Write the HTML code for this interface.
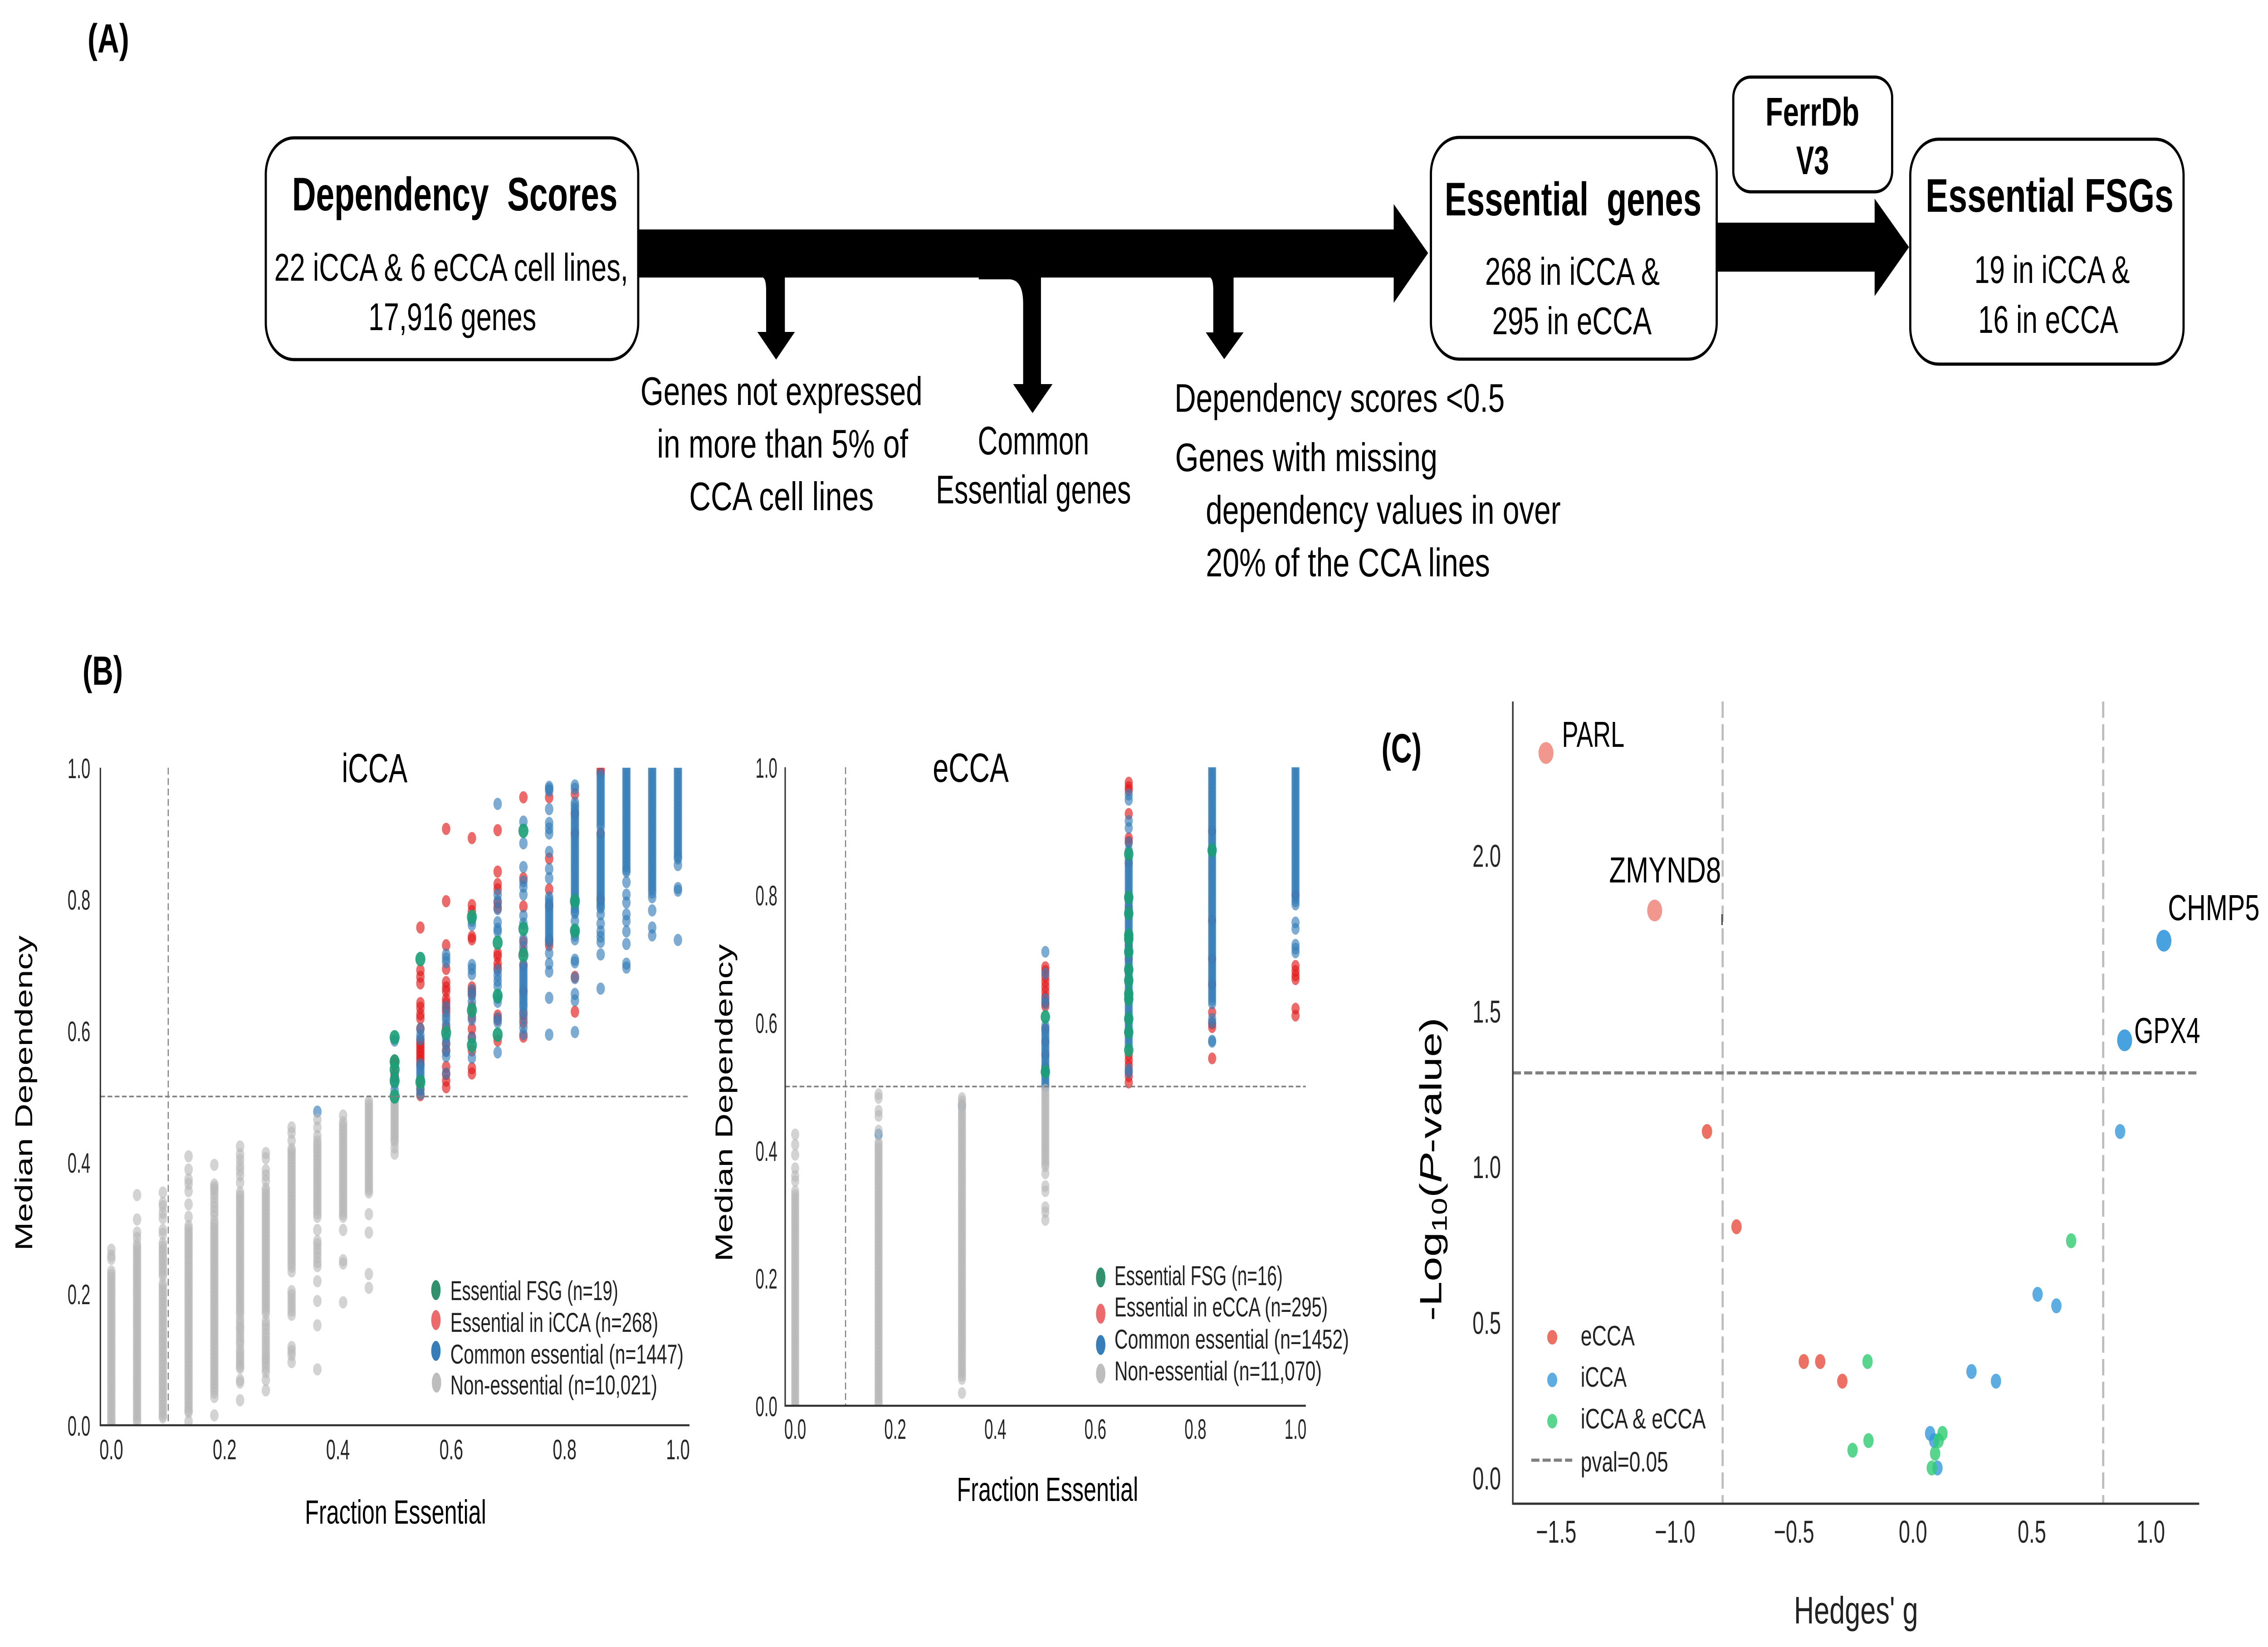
<!DOCTYPE html>
<html lang="en">
<head>
<meta charset="utf-8">
<title>Essential ferroptosis genes in CCA</title>
<style>
html,body{margin:0;padding:0;background:#fff;width:100%;height:100%;overflow:hidden;}
svg{display:block;overflow:hidden;width:100vw;height:100vh;font-family:"Liberation Sans",sans-serif;}
</style>
</head>
<body>
<svg id="figure" xmlns="http://www.w3.org/2000/svg" viewBox="0 0 7253 3632" preserveAspectRatio="none">
<defs>
<clipPath id="clipI"><rect x="0" y="1693" width="2300" height="1450"/></clipPath>
<clipPath id="clipE"><rect x="2400" y="1692" width="1900" height="1408"/></clipPath>
</defs>
<rect x="0" y="0" width="7253" height="3632" fill="#fff"/>

<!-- PANEL A -->
<g>
<text x="280" y="116" font-size="90" font-weight="bold" textLength="133" lengthAdjust="spacingAndGlyphs">(A)</text>
<path d="M2030 506H4457V450L4567 558L4457 668V612H2030Z" fill="#000"/>
<path d="M2440 610H2510V732H2542L2482 793L2422 732H2450V640Q2450 616 2440 612Z" fill="#000"/>
<path d="M3130 610H3329V847H3366L3302 911L3240 847H3272V670Q3272 618 3230 616H3130Z" fill="#000"/>
<path d="M3870 610H3945V733H3977L3915 792L3856 733H3880V640Q3880 616 3870 612Z" fill="#000"/>
<path d="M5480 491H5995V438L6105 545L5995 653V599H5480Z" fill="#000"/>

<rect x="850" y="304" width="1191" height="489" rx="90" ry="80" fill="#fff" stroke="#000" stroke-width="7"/>
<text x="934" y="464" font-size="104" font-weight="bold" textLength="1041" lengthAdjust="spacingAndGlyphs" xml:space="preserve">Dependency  Scores</text>
<text x="877" y="619" font-size="85" textLength="1132" lengthAdjust="spacingAndGlyphs">22 iCCA &amp; 6 eCCA cell lines,</text>
<text x="1178" y="728" font-size="85" textLength="537" lengthAdjust="spacingAndGlyphs">17,916 genes</text>

<rect x="4576" y="303" width="914" height="489" rx="90" ry="80" fill="#fff" stroke="#000" stroke-width="7"/>
<text x="4620" y="475" font-size="104" font-weight="bold" textLength="821" lengthAdjust="spacingAndGlyphs" xml:space="preserve">Essential  genes</text>
<text x="4749" y="628" font-size="85" textLength="559" lengthAdjust="spacingAndGlyphs">268 in iCCA &amp;</text>
<text x="4772" y="737" font-size="85" textLength="510" lengthAdjust="spacingAndGlyphs">295 in eCCA</text>

<rect x="5543" y="170" width="508" height="253" rx="55" ry="45" fill="#fff" stroke="#000" stroke-width="7"/>
<text x="5646" y="277" font-size="88" font-weight="bold" textLength="300" lengthAdjust="spacingAndGlyphs">FerrDb</text>
<text x="5744" y="384" font-size="88" font-weight="bold" textLength="105" lengthAdjust="spacingAndGlyphs">V3</text>

<rect x="6109" y="307" width="874" height="496" rx="90" ry="80" fill="#fff" stroke="#000" stroke-width="7"/>
<text x="6158" y="467" font-size="104" font-weight="bold" textLength="793" lengthAdjust="spacingAndGlyphs">Essential FSGs</text>
<text x="6314" y="624" font-size="85" textLength="497" lengthAdjust="spacingAndGlyphs">19 in iCCA &amp;</text>
<text x="6326" y="734" font-size="85" textLength="448" lengthAdjust="spacingAndGlyphs">16 in eCCA</text>

<text x="2048" y="893" font-size="88" textLength="902" lengthAdjust="spacingAndGlyphs">Genes not expressed</text>
<text x="2101" y="1009" font-size="88" textLength="803" lengthAdjust="spacingAndGlyphs">in more than 5% of</text>
<text x="2204" y="1125" font-size="88" textLength="590" lengthAdjust="spacingAndGlyphs">CCA cell lines</text>
<text x="3127" y="1002" font-size="88" textLength="356" lengthAdjust="spacingAndGlyphs">Common</text>
<text x="2993" y="1110" font-size="88" textLength="624" lengthAdjust="spacingAndGlyphs">Essential genes</text>
<text x="3756" y="908" font-size="88" textLength="1056" lengthAdjust="spacingAndGlyphs">Dependency scores &lt;0.5</text>
<text x="3758" y="1039" font-size="88" textLength="839" lengthAdjust="spacingAndGlyphs">Genes with missing</text>
<text x="3856" y="1155" font-size="88" textLength="1135" lengthAdjust="spacingAndGlyphs">dependency values in over</text>
<text x="3856" y="1271" font-size="88" textLength="909" lengthAdjust="spacingAndGlyphs">20% of the CCA lines</text>
</g>

<!-- PANEL B iCCA -->
<text x="264" y="1510" font-size="90" font-weight="bold" textLength="129" lengthAdjust="spacingAndGlyphs">(B)</text>
<g id="icca-chart">
<g id="icca-dots" clip-path="url(#clipI)"></g>
<line x1="538" y1="1693" x2="538" y2="3143" stroke="#7f7f7f" stroke-width="3.5" stroke-dasharray="15 8"/>
<line x1="321" y1="2418" x2="2205" y2="2418" stroke="#7f7f7f" stroke-width="3.5" stroke-dasharray="15 8"/>
<line x1="321" y1="1693" x2="321" y2="3145" stroke="#333" stroke-width="4.5"/>
<line x1="319" y1="3143" x2="2205" y2="3143" stroke="#333" stroke-width="4.5"/>
<g id="icca-ticks" fill="#262626" font-size="62"></g>
<text x="1093" y="1725" font-size="90" textLength="210" lengthAdjust="spacingAndGlyphs">iCCA</text>
<text x="975" y="3360" font-size="74" textLength="580" lengthAdjust="spacingAndGlyphs">Fraction Essential</text>
<text transform="translate(103 2758) rotate(-90)" font-size="78" textLength="695" lengthAdjust="spacingAndGlyphs">Median Dependency</text>
<g font-size="60" fill="#222">
<ellipse cx="1394" cy="2845" rx="15" ry="22" fill="#31916f"/>
<ellipse cx="1394" cy="2911" rx="15" ry="22" fill="#ec6a6c"/>
<ellipse cx="1394" cy="2979" rx="15" ry="22" fill="#377eb8"/>
<ellipse cx="1396" cy="3049" rx="15" ry="22" fill="#bdbdbd"/>
<text x="1440" y="2867" textLength="537" lengthAdjust="spacingAndGlyphs">Essential FSG (n=19)</text>
<text x="1440" y="2937" textLength="665" lengthAdjust="spacingAndGlyphs">Essential in iCCA (n=268)</text>
<text x="1440" y="3007" textLength="746" lengthAdjust="spacingAndGlyphs">Common essential (n=1447)</text>
<text x="1440" y="3075" textLength="662" lengthAdjust="spacingAndGlyphs">Non-essential (n=10,021)</text>
</g>
</g>

<!-- PANEL B eCCA -->
<g id="ecca-chart">
<g id="ecca-dots" clip-path="url(#clipE)"></g>
<line x1="2704" y1="1692" x2="2704" y2="3100" stroke="#7f7f7f" stroke-width="3.5" stroke-dasharray="15 8"/>
<line x1="2511" y1="2396" x2="4176" y2="2396" stroke="#7f7f7f" stroke-width="3.5" stroke-dasharray="15 8"/>
<line x1="2511" y1="1692" x2="2511" y2="3102" stroke="#333" stroke-width="4.5"/>
<line x1="2509" y1="3100" x2="4176" y2="3100" stroke="#333" stroke-width="4.5"/>
<g id="ecca-ticks" fill="#262626" font-size="62"></g>
<text x="2983" y="1724" font-size="90" textLength="243" lengthAdjust="spacingAndGlyphs">eCCA</text>
<text x="3060" y="3310" font-size="74" textLength="580" lengthAdjust="spacingAndGlyphs">Fraction Essential</text>
<text transform="translate(2342 2782) rotate(-90)" font-size="78" textLength="700" lengthAdjust="spacingAndGlyphs">Median Dependency</text>
<g font-size="60" fill="#222">
<ellipse cx="3520" cy="2817" rx="15" ry="22" fill="#31916f"/>
<ellipse cx="3520" cy="2897" rx="15" ry="22" fill="#ec6a6c"/>
<ellipse cx="3520" cy="2966" rx="15" ry="22" fill="#377eb8"/>
<ellipse cx="3520" cy="3029" rx="15" ry="22" fill="#bdbdbd"/>
<text x="3564" y="2834" textLength="538" lengthAdjust="spacingAndGlyphs">Essential FSG (n=16)</text>
<text x="3564" y="2903" textLength="682" lengthAdjust="spacingAndGlyphs">Essential in eCCA (n=295)</text>
<text x="3564" y="2974" textLength="750" lengthAdjust="spacingAndGlyphs">Common essential (n=1452)</text>
<text x="3564" y="3044" textLength="663" lengthAdjust="spacingAndGlyphs">Non-essential (n=11,070)</text>
</g>
</g>

<!-- PANEL C -->
<text x="4418" y="1681" font-size="90" font-weight="bold" textLength="128" lengthAdjust="spacingAndGlyphs">(C)</text>
<g id="volcano-chart">
<line x1="5509" y1="1547" x2="5509" y2="3316" stroke="#bdbdbd" stroke-width="7" stroke-dasharray="36 14"/>
<line x1="6726" y1="1547" x2="6726" y2="3316" stroke="#bdbdbd" stroke-width="7" stroke-dasharray="36 14"/>
<line x1="4838" y1="2366" x2="7033" y2="2366" stroke="#808080" stroke-width="7" stroke-dasharray="26 10"/>
<line x1="4838" y1="1547" x2="4838" y2="3318" stroke="#333" stroke-width="5"/>
<line x1="4836" y1="3316" x2="7033" y2="3316" stroke="#333" stroke-width="5"/>
<line x1="5507" y1="2016" x2="5507" y2="2040" stroke="#333" stroke-width="4"/>
<g id="volcano-dots"></g>
<g id="volcano-ticks" fill="#262626" font-size="70"></g>
<text x="4995" y="1647" font-size="80" textLength="200" lengthAdjust="spacingAndGlyphs">PARL</text>
<text x="5146" y="1946" font-size="80" textLength="358" lengthAdjust="spacingAndGlyphs">ZMYND8</text>
<text x="6933" y="2029" font-size="80" textLength="293" lengthAdjust="spacingAndGlyphs">CHMP5</text>
<text x="6825" y="2300" font-size="80" textLength="211" lengthAdjust="spacingAndGlyphs">GPX4</text>
<text x="5737" y="3580" font-size="84" textLength="397" lengthAdjust="spacingAndGlyphs" fill="#222">Hedges' g</text>
<text transform="translate(4609 2913) rotate(-90)" font-size="98">-Log<tspan font-size="68" dy="18">10</tspan><tspan dy="-18">(</tspan><tspan font-style="italic">P</tspan>-value)</text>
<g font-size="62" fill="#222">
<circle cx="4964" cy="2949" r="16" fill="#e74c3c" fill-opacity="0.8"/>
<circle cx="4964" cy="3043" r="16" fill="#3498db" fill-opacity="0.8"/>
<circle cx="4964" cy="3134" r="16" fill="#2ecc71" fill-opacity="0.8"/>
<line x1="4897" y1="3220" x2="5028" y2="3220" stroke="#808080" stroke-width="7" stroke-dasharray="26 10"/>
<text x="5055" y="2967" textLength="173" lengthAdjust="spacingAndGlyphs">eCCA</text>
<text x="5055" y="3058" textLength="147" lengthAdjust="spacingAndGlyphs">iCCA</text>
<text x="5055" y="3150" textLength="400" lengthAdjust="spacingAndGlyphs">iCCA &amp; eCCA</text>
<text x="5055" y="3245" textLength="280" lengthAdjust="spacingAndGlyphs">pval=0.05</text>
</g>
</g>
</svg>

<script>
const fractionTickValues = [0, 0.2, 0.4, 0.6, 0.8, 1];
const fractionTickLabels = ["0.0", "0.2", "0.4", "0.6", "0.8", "1.0"];

/* iCCA: one list per fraction-essential column, column index / 22 */
const iccaColumnCount = 22;
const iccaNonEssential = [
[.267,.258,.253,.234,.229,.224,.219,.214,.209,.204,.199,.194,.189,.184,.179,.174,.169,.164,.159,.154,.149,.144,.139,.134,.129,.124,.119,.114,.109,.104,.099,.094,.089,.084,.079,.074,.069,.064,.059,.054,.049,.044,.039,.034,.029,.024,.019,.014,.009,.004,0],
[.35,.313,.293,.285,.275,.27,.265,.26,.255,.25,.245,.24,.235,.23,.225,.22,.215,.21,.205,.2,.195,.19,.185,.18,.175,.17,.165,.16,.155,.15,.145,.14,.135,.13,.125,.12,.115,.11,.105,.1,.095,.09,.085,.08,.075,.07,.065,.06,.055,.05,.045,.04,.035,.03,.025,.02,.015,.01,.005],
[.354,.338,.333,.323,.315,.297,.291,.277,.272,.267,.262,.257,.252,.247,.242,.237,.232,.227,.215,.21,.205,.2,.195,.19,.185,.18,.175,.17,.165,.16,.155,.15,.145,.14,.135,.13,.125,.12,.115,.11,.105,.1,.095,.09,.085,.08,.075,.07,.065,.06,.055,.05,.045,.04,.035,.03,.025,.02,.015,.012],
[.409,.389,.374,.367,.356,.336,.317,.303,.298,.293,.288,.283,.278,.273,.268,.263,.258,.253,.248,.243,.238,.233,.228,.223,.218,.213,.208,.203,.198,.193,.188,.183,.178,.173,.168,.163,.158,.153,.148,.143,.138,.133,.128,.123,.118,.113,.108,.103,.098,.093,.088,.083,.078,.073,.068,.063,.058,.053,.048,.043,.038,.033,.028,.023,.02,.006],
[.396,.366,.362,.358,.352,.346,.338,.332,.325,.319,.31,.305,.3,.295,.29,.285,.28,.275,.27,.265,.26,.255,.25,.245,.24,.235,.23,.225,.22,.215,.21,.205,.2,.195,.19,.185,.18,.175,.17,.165,.16,.155,.15,.145,.14,.135,.13,.125,.12,.115,.11,.105,.1,.095,.09,.085,.08,.075,.07,.065,.06,.055,.05,.043,.015],
[.424,.412,.404,.395,.388,.38,.369,.354,.349,.344,.339,.334,.329,.324,.319,.314,.309,.304,.299,.294,.289,.284,.279,.274,.269,.264,.259,.254,.249,.244,.239,.234,.229,.224,.219,.214,.209,.204,.199,.194,.189,.184,.179,.174,.17,.162,.156,.15,.146,.14,.134,.128,.123,.115,.11,.105,.1,.095,.09,.087,.069,.065,.038],
[.414,.406,.388,.38,.372,.36,.355,.35,.345,.34,.335,.33,.325,.32,.315,.31,.305,.3,.295,.29,.285,.28,.275,.27,.265,.26,.255,.25,.245,.24,.235,.23,.225,.22,.215,.21,.205,.2,.195,.19,.185,.18,.175,.17,.158,.152,.146,.139,.133,.127,.121,.115,.109,.103,.099,.093,.087,.081,.069,.053],
[.453,.445,.433,.42,.416,.411,.406,.401,.396,.391,.386,.381,.376,.371,.366,.361,.356,.351,.346,.341,.336,.331,.326,.321,.316,.311,.306,.301,.296,.291,.286,.281,.276,.271,.266,.261,.256,.251,.246,.241,.234,.204,.198,.192,.186,.18,.174,.168,.119,.113,.107,.096],
[.465,.453,.44,.432,.427,.422,.417,.412,.407,.402,.397,.392,.387,.382,.377,.372,.367,.362,.357,.352,.347,.342,.337,.332,.327,.322,.317,.297,.28,.275,.268,.262,.255,.248,.242,.219,.189,.152,.085],
[.471,.461,.456,.451,.446,.441,.436,.431,.426,.421,.416,.411,.406,.401,.396,.391,.386,.381,.376,.371,.366,.361,.356,.351,.346,.341,.336,.331,.326,.321,.317,.297,.251,.246,.187],
[.493,.488,.483,.478,.473,.468,.463,.458,.453,.448,.443,.438,.433,.428,.423,.418,.413,.408,.403,.398,.393,.388,.383,.378,.373,.368,.363,.358,.354,.321,.293,.23,.209],
[.5,.495,.49,.485,.48,.475,.47,.465,.46,.455,.45,.445,.44,.435,.431,.422,.413],
[],[],[],[],[],[],[],[],[],[],[]
];
const iccaEssential = [
[],[],[],[],[],[],[],[],[],[],[],
[.555,.549,.534,.53],
[.757,.692,.682,.672,.642,.635,.625,.619,.603,.585,.58,.575,.57,.565,.56,.555,.549,.525,.512,.502],
[.907,.797,.73,.694,.674,.666,.66,.648,.642,.635,.629,.605,.58,.57,.545,.534,.524,.514],
[.893,.791,.782,.743,.739,.666,.66,.656,.636,.621,.603,.59,.57,.543,.535],
[.905,.842,.823,.815,.795,.787,.718,.713,.702,.695,.623,.617,.585],
[.955,.832,.789,.735,.72,.7,.66,.625,.613,.591],
[.955,.862,.815,.79,.737,.73],
[.96,.93,.9,.682,.629],
[.997,.992,.9,.8],
[],[],[]
];
const iccaCommon = [
[],[],[],[],[],[],[],[],
[.477],
[],[],
[.585,.53,.52,.51],
[.603,.593,.587,.549,.545,.54,.535,.53,.51,.504],
[.716,.71,.704,.636,.623,.617,.609,.589,.581,.569,.561,.535],
[.767,.761,.7,.694,.686,.662,.654,.644,.617,.589,.559],
[.945,.807,.797,.785,.765,.755,.751,.692,.684,.676,.668,.65,.644,.619,.613,.567],
[.918,.885,.849,.827,.819,.807,.775,.763,.739,.727,.7,.695,.69,.685,.68,.675,.67,.665,.66,.655,.65,.645,.64,.636,.629,.619,.605,.595],
[.971,.968,.965,.937,.916,.908,.9,.872,.846,.832,.803,.798,.793,.788,.783,.778,.773,.768,.763,.758,.753,.748,.743,.739,.735,.718,.702,.69,.65,.594],
[.973,.968,.947,.942,.937,.932,.927,.922,.917,.912,.907,.902,.897,.892,.887,.882,.877,.872,.867,.862,.857,.852,.847,.842,.837,.832,.827,.822,.817,.812,.807,.802,.797,.792,.787,.782,.779,.767,.751,.745,.739,.708,.704,.68,.656,.646,.598],
[.99,.985,.98,.975,.97,.965,.96,.955,.95,.945,.94,.935,.93,.925,.92,.915,.91,.9,.895,.89,.885,.88,.875,.87,.865,.86,.855,.85,.845,.84,.835,.83,.825,.82,.815,.81,.805,.8,.795,.79,.787,.777,.763,.751,.743,.735,.716,.664],
[1,.995,.99,.985,.98,.975,.97,.965,.96,.955,.95,.945,.94,.935,.93,.925,.92,.915,.91,.905,.9,.895,.89,.885,.88,.875,.87,.865,.86,.855,.85,.845,.842,.826,.807,.795,.777,.767,.751,.732,.702,.696],
[1,.995,.99,.985,.98,.975,.97,.965,.96,.955,.95,.945,.94,.935,.93,.925,.92,.915,.91,.905,.9,.895,.89,.885,.88,.875,.87,.865,.86,.855,.85,.845,.84,.835,.83,.825,.82,.815,.81,.803,.783,.757,.745],
[1,.995,.99,.985,.98,.975,.97,.965,.96,.955,.95,.945,.94,.935,.93,.925,.92,.915,.91,.905,.9,.895,.89,.885,.88,.875,.87,.865,.862,.852,.817,.813,.738]
];
const iccaFsg = [
[],[],[],[],[],[],[],[],[],[],[],
[.59,.553,.541,.524,.5],
[.709,.522],
[.597],
[.773,.631,.578],
[.734,.653,.594],
[.904,.755,.715],
[],
[.797,.752],
[],[],[],[]
];

/* eCCA: one list per fraction-essential column, column index / 6 */
const eccaColumnCount = 6;
const eccaNonEssential = [
[.425,.409,.393,.372,.36,.352,.336,.33,.325,.32,.315,.31,.305,.3,.295,.29,.285,.28,.275,.27,.265,.26,.255,.25,.245,.24,.235,.23,.225,.22,.215,.21,.205,.2,.195,.19,.185,.18,.175,.17,.165,.16,.155,.15,.145,.14,.135,.13,.125,.12,.115,.11,.105,.1,.095,.09,.085,.08,.075,.07,.065,.06,.055,.05,.045,.04,.035,.03,.025,.02,.015,.01,.005,0],
[.488,.482,.462,.454,.431,.413,.408,.403,.398,.393,.388,.383,.378,.373,.368,.363,.358,.353,.348,.343,.338,.333,.328,.323,.318,.313,.308,.303,.298,.293,.288,.283,.278,.273,.268,.263,.258,.253,.248,.243,.238,.233,.228,.223,.218,.213,.208,.203,.198,.193,.188,.183,.178,.173,.168,.163,.158,.153,.148,.143,.138,.133,.128,.123,.118,.113,.108,.103,.098,.093,.088,.083,.078,.073,.068,.063,.058,.053,.048,.043,.038,.033,.028,.023,.018,.013,.008,.004],
[.482,.477,.472,.467,.462,.457,.452,.447,.442,.437,.432,.427,.422,.417,.412,.407,.402,.397,.392,.387,.382,.377,.372,.367,.362,.357,.352,.347,.342,.337,.332,.327,.322,.317,.312,.307,.302,.297,.292,.287,.282,.277,.272,.267,.262,.257,.252,.247,.242,.237,.232,.227,.222,.217,.212,.207,.202,.197,.192,.187,.182,.177,.172,.167,.162,.157,.152,.147,.142,.137,.132,.127,.122,.117,.112,.107,.102,.097,.092,.087,.082,.077,.072,.067,.062,.057,.052,.047,.042,.02],
[.495,.49,.485,.48,.475,.47,.465,.46,.455,.45,.445,.44,.435,.43,.425,.42,.415,.41,.405,.4,.395,.39,.385,.38,.375,.364,.344,.336,.311,.303,.291],
[],[],[]
];
const eccaEssential = [
[],[],[],
[.687,.681,.672,.664,.656,.648,.64,.632,.626,.59,.57,.55,.53],
[.976,.969,.964,.927,.889,.883,.85,.78,.72,.7,.549,.541,.533,.524,.516,.506],
[.9,.76,.7,.66,.616,.599,.593,.544],
[.8,.689,.681,.674,.668,.622,.611]
];
const eccaCommon = [
[],
[.425],
[.47],
[.711,.677,.637,.63,.595,.59,.585,.58,.575,.57,.565,.56,.555,.55,.545,.54,.535,.53,.525,.52,.515,.51,.505,.5],
[.957,.949,.916,.905,.882,.87,.855,.85,.845,.84,.835,.83,.825,.82,.815,.81,.805,.8,.795,.79,.785,.78,.775,.77,.765,.76,.755,.75,.745,.74,.735,.73,.725,.72,.715,.71,.705,.7,.695,.69,.685,.68,.675,.67,.665,.66,.655,.65,.645,.64,.635,.63,.625,.62,.615,.61,.605,.6,.595,.59,.585,.58,.575,.57,.565,.527,.522],
[1,.995,.99,.985,.98,.975,.97,.965,.96,.955,.95,.945,.94,.935,.93,.925,.92,.915,.91,.905,.9,.895,.89,.885,.88,.875,.87,.865,.86,.855,.85,.845,.84,.835,.83,.825,.82,.815,.81,.805,.8,.795,.79,.785,.78,.775,.77,.765,.76,.755,.75,.745,.74,.735,.73,.725,.72,.715,.71,.705,.7,.695,.69,.685,.68,.675,.67,.665,.66,.655,.65,.645,.64,.635,.63,.606,.6,.572,.57],
[1,.995,.99,.985,.98,.975,.97,.965,.96,.955,.95,.945,.94,.935,.93,.925,.92,.915,.91,.905,.9,.895,.89,.885,.88,.875,.87,.865,.86,.855,.85,.845,.84,.835,.83,.825,.82,.815,.81,.805,.8,.795,.79,.785,.757,.747,.722,.716,.71]
];
const eccaFsg = [
[],[],[],
[.609,.523],
[.864,.796,.771,.737,.731,.711,.683,.666,.645,.637,.606,.585,.557],
[.87],
[]
];

/* Volcano plot */
const hedgesTickValues = [-1.5, -1, -0.5, 0, 0.5, 1];
const hedgesTickLabels = ["\u22121.5", "\u22121.0", "\u22120.5", "0.0", "0.5", "1.0"];
const pvalueTickValues = [0, 0.5, 1, 1.5, 2];
const pvalueTickLabels = ["0.0", "0.5", "1.0", "1.5", "2.0"];
const eccaHedges = [-0.866, -0.742, -0.459, -0.39, -0.297];
const eccaPvalues = [1.112, 0.806, 0.373, 0.373, 0.31];
const iccaHedges = [0.871, 0.524, 0.603, 0.246, 0.349, 0.072, 0.089, 0.103];
const iccaPvalues = [1.112, 0.589, 0.552, 0.341, 0.31, 0.142, 0.119, 0.031];
const bothHedges = [0.665, -0.191, -0.187, -0.254, 0.124, 0.108, 0.093, 0.079];
const bothPvalues = [0.761, 0.373, 0.119, 0.088, 0.142, 0.119, 0.078, 0.031];
const eccaHitHedges = [-1.543, -1.086];
const eccaHitPvalues = [2.328, 1.822];
const iccaHitHedges = [1.055, 0.89];
const iccaHitPvalues = [1.725, 1.405];

const SVGNS = "http://www.w3.org/2000/svg";

function xIcca(v) { return 356 + 1812 * v; }
function yIcca(v) { return 3143 - 1450 * v; }
function xEcca(v) { return 2543 + 1600 * v; }
function yEcca(v) { return 3100 - 1408 * v; }
function xVolcano(g) { return 6117.6 + 760.6 * g; }
function yVolcano(p) { return 3258.5 - 686.4 * p; }

function drawColumns(parentId, columns, count, xFn, yFn, r, fill, opacity, name) {
  const parent = document.getElementById(parentId);
  columns.forEach(function (vals, k) {
    vals.forEach(function (v) {
      const c = document.createElementNS(SVGNS, "circle");
      c.setAttribute("cx", xFn(k / count));
      c.setAttribute("cy", yFn(v));
      c.setAttribute("r", r);
      c.setAttribute("fill", fill);
      c.setAttribute("fill-opacity", opacity);
      
      
      parent.appendChild(c);
    });
  });
}

function drawPoints(hedges, pvalues, r, fill, opacity, name) {
  const parent = document.getElementById("volcano-dots");
  hedges.forEach(function (g, i) {
    const c = document.createElementNS(SVGNS, "circle");
    c.setAttribute("cx", xVolcano(g));
    c.setAttribute("cy", yVolcano(pvalues[i]));
    c.setAttribute("r", r);
    c.setAttribute("fill", fill);
    c.setAttribute("fill-opacity", opacity);
    
    
    parent.appendChild(c);
  });
}

function drawXTicks(parentId, values, labels, xFn, baseline, width) {
  const parent = document.getElementById(parentId);
  values.forEach(function (v, i) {
    const t = document.createElementNS(SVGNS, "text");
    t.setAttribute("x", xFn(v));
    t.setAttribute("y", baseline);
    t.setAttribute("text-anchor", "middle");
    t.setAttribute("textLength", labels[i].length > 3 ? width * 1.42 : width);
    t.setAttribute("lengthAdjust", "spacingAndGlyphs");
    
    
    t.textContent = labels[i];
    parent.appendChild(t);
  });
}

function drawYTicks(parentId, values, labels, yFn, right, width, shift) {
  const parent = document.getElementById(parentId);
  values.forEach(function (v, i) {
    const t = document.createElementNS(SVGNS, "text");
    t.setAttribute("x", right);
    t.setAttribute("y", yFn(v) + shift);
    t.setAttribute("text-anchor", "end");
    t.setAttribute("textLength", width);
    t.setAttribute("lengthAdjust", "spacingAndGlyphs");
    
    
    t.textContent = labels[i];
    parent.appendChild(t);
  });
}

const BLUE = "#377eb8", RED = "#e41a1c", GRAY = "#b8b8b8", GREEN = "#1b9e77";

drawColumns("icca-dots", iccaEssential, iccaColumnCount, xIcca, yIcca, 13.5, RED, 0.65, "essential-point");
drawColumns("icca-dots", iccaCommon, iccaColumnCount, xIcca, yIcca, 13.5, BLUE, 0.65, "common-essential-point");
drawColumns("icca-dots", iccaNonEssential, iccaColumnCount, xIcca, yIcca, 13.5, GRAY, 0.62, "non-essential-point");
drawColumns("icca-dots", iccaFsg, iccaColumnCount, xIcca, yIcca, 16, GREEN, 0.9, "essential-fsg-point");

drawColumns("ecca-dots", eccaEssential, eccaColumnCount, xEcca, yEcca, 13, RED, 0.65, "essential-point");
drawColumns("ecca-dots", eccaCommon, eccaColumnCount, xEcca, yEcca, 13, BLUE, 0.65, "common-essential-point");
drawColumns("ecca-dots", eccaNonEssential, eccaColumnCount, xEcca, yEcca, 13, GRAY, 0.62, "non-essential-point");
drawColumns("ecca-dots", eccaFsg, eccaColumnCount, xEcca, yEcca, 15, GREEN, 0.9, "essential-fsg-point");

drawXTicks("icca-ticks", fractionTickValues, fractionTickLabels, xIcca, 3218, 76);
drawYTicks("icca-ticks", fractionTickValues, fractionTickLabels, yIcca, 289, 73, 23);
drawXTicks("ecca-ticks", fractionTickValues, fractionTickLabels, xEcca, 3173, 70);
drawYTicks("ecca-ticks", fractionTickValues, fractionTickLabels, yEcca, 2486, 70, 23);

drawPoints(eccaHedges, eccaPvalues, 16.5, "#e74c3c", 0.8, "ecca-gene-point");
drawPoints(iccaHedges, iccaPvalues, 16.5, "#3498db", 0.8, "icca-gene-point");
drawPoints(bothHedges, bothPvalues, 16.5, "#2ecc71", 0.8, "shared-gene-point");
drawPoints(eccaHitHedges, eccaHitPvalues, 24, "#e74c3c", 0.58, "ecca-significant-point");
drawPoints(iccaHitHedges, iccaHitPvalues, 24, "#3498db", 0.9, "icca-significant-point");

drawXTicks("volcano-ticks", hedgesTickValues, hedgesTickLabels, xVolcano, 3402, 91);
drawYTicks("volcano-ticks", pvalueTickValues, pvalueTickLabels, yVolcano, 4800, 91, 26);
</script>
</body>
</html>
